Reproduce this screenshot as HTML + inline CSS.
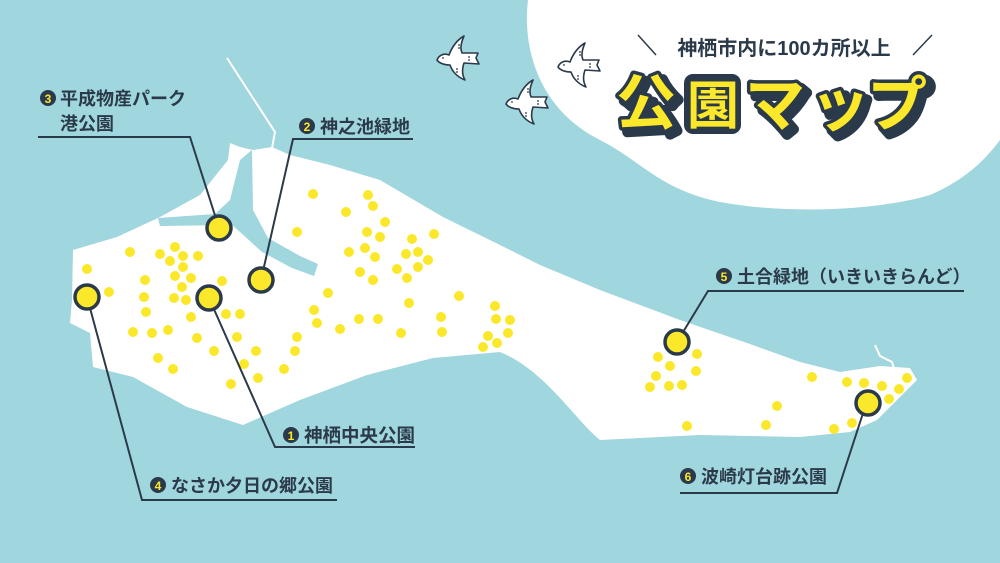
<!DOCTYPE html>
<html><head><meta charset="utf-8"><style>
html,body{margin:0;padding:0;width:1000px;height:563px;overflow:hidden;background:#a0d6dd;}
svg{display:block}
text{font-family:"Liberation Sans","Noto Sans CJK JP",sans-serif;font-weight:bold;fill:#2b3a4a}
</style></head><body>
<svg width="1000" height="563" viewBox="0 0 1000 563" xmlns="http://www.w3.org/2000/svg">
<defs>
<g id="bird">
<path d="M0,25 C2,20 7,18 12,20 C15,12 20,5 27,1 C24,8 23,13 25,18 L41,18 L39,23 L42,29 L27,28 C25,34 25,40 28,45 C20,42 15,36 13,30 C7,30 2,28 0,25Z" fill="#fff" stroke="#2b3a4a" stroke-width="1.6" stroke-linejoin="round"/>
<g stroke="#2b3a4a" stroke-width="1.2"><line x1="21" y1="10" x2="23" y2="10"/><line x1="21" y1="13" x2="23" y2="13"/><line x1="19" y1="34" x2="21" y2="34"/><line x1="19" y1="37" x2="21" y2="37"/><line x1="31" y1="22" x2="33" y2="22"/><line x1="31" y1="25" x2="33" y2="25"/></g>
<circle cx="6" cy="23" r="0.9" fill="#2b3a4a"/>
</g>
</defs>
<rect width="1000" height="563" fill="#a0d6dd"/>
<path d="M528,0 C522,50 540,110 600,140 C640,160 660,190 720,202 C790,215 880,210 930,195 C965,180 985,160 1000,140 L1000,0Z" fill="#fff"/>
<polyline points="227,58 275,132 272,148" fill="none" stroke="#fff" stroke-width="2"/>
<path fill="#fff" d="M73,250 L117,237 L160,217 L200,195 L228,160 L230,143 L240,147 L253,150 L272,147 L290,155 L330,165 L380,180 L443,217 L500,245 L540,265 L600,290 L680,320 L747,343 L800,362 L840,372 L880,366 L910,368 L917,380 L900,397 L877,420 L850,432 L800,437 L700,435 L600,440 C575,420 545,370 500,352 L433,358 L367,375 L300,400 L243,425 L187,407 L133,377 L93,367 L90,333 L70,323 L72,300 Z"/>
<path fill="#a0d6dd" d="M240,160 L252,150 L253,210 L268,238 L300,256 L318,264 L314,276 L292,268 L262,252 L240,232 L232,225 L160,226 L158,218 L215,214 L230,200 Z"/>
<polyline points="875,345 880,356 892,362 895,372" fill="none" stroke="#fff" stroke-width="2"/>
<g fill="#fbe82a">
<circle cx="313" cy="194" r="5"/><circle cx="368" cy="195" r="5"/><circle cx="373" cy="206" r="5"/><circle cx="346" cy="212" r="5"/><circle cx="385" cy="222" r="5"/><circle cx="297" cy="232" r="5"/><circle cx="367" cy="232" r="5"/><circle cx="380" cy="237" r="5"/><circle cx="412" cy="239" r="5"/><circle cx="434" cy="234" r="5"/><circle cx="349" cy="252" r="5"/><circle cx="365" cy="248" r="5"/><circle cx="375" cy="257" r="5"/><circle cx="406" cy="254" r="5"/><circle cx="418" cy="252" r="5"/><circle cx="428" cy="260" r="5"/><circle cx="360" cy="272" r="5"/><circle cx="373" cy="280" r="5"/><circle cx="397" cy="269" r="5"/><circle cx="407" cy="278" r="5"/><circle cx="418" cy="267" r="5"/><circle cx="328" cy="293" r="5"/><circle cx="459" cy="296" r="5"/><circle cx="409" cy="303" r="5"/><circle cx="314" cy="310" r="5"/><circle cx="317" cy="323" r="5"/><circle cx="340" cy="329" r="5"/><circle cx="359" cy="319" r="5"/><circle cx="378" cy="319" r="5"/><circle cx="401" cy="333" r="5"/><circle cx="441" cy="317" r="5"/><circle cx="442" cy="332" r="5"/><circle cx="495" cy="306" r="5"/><circle cx="496" cy="319" r="5"/><circle cx="488" cy="336" r="5"/><circle cx="483" cy="347" r="5"/><circle cx="497" cy="343" r="5"/><circle cx="510" cy="320" r="5"/><circle cx="508" cy="333" r="5"/>
<circle cx="130" cy="252" r="5"/><circle cx="87" cy="269" r="5"/><circle cx="109" cy="292" r="5"/><circle cx="160" cy="254" r="5"/><circle cx="175" cy="247" r="5"/><circle cx="183" cy="256" r="5"/><circle cx="198" cy="256" r="5"/><circle cx="170" cy="261" r="5"/><circle cx="183" cy="267" r="5"/><circle cx="175" cy="276" r="5"/><circle cx="191" cy="278" r="5"/><circle cx="182" cy="287" r="5"/><circle cx="145" cy="280" r="5"/><circle cx="222" cy="281" r="5"/><circle cx="144" cy="297" r="5"/><circle cx="174" cy="298" r="5"/><circle cx="186" cy="300" r="5"/><circle cx="146" cy="312" r="5"/><circle cx="191" cy="317" r="5"/><circle cx="226" cy="314" r="5"/><circle cx="240" cy="314" r="5"/><circle cx="133" cy="332" r="5"/><circle cx="152" cy="333" r="5"/><circle cx="168" cy="330" r="5"/><circle cx="197" cy="338" r="5"/><circle cx="237" cy="337" r="5"/><circle cx="214" cy="351" r="5"/><circle cx="256" cy="351" r="5"/><circle cx="297" cy="337" r="5"/><circle cx="295" cy="351" r="5"/><circle cx="158" cy="358" r="5"/><circle cx="244" cy="364" r="5"/><circle cx="173" cy="369" r="5"/><circle cx="284" cy="369" r="5"/><circle cx="258" cy="378" r="5"/><circle cx="231" cy="384" r="5"/>
<circle cx="658" cy="357" r="5"/><circle cx="697" cy="354" r="5"/><circle cx="670" cy="366" r="5"/><circle cx="696" cy="371" r="5"/><circle cx="656" cy="376" r="5"/><circle cx="650" cy="387" r="5"/><circle cx="669" cy="386" r="5"/><circle cx="682" cy="385" r="5"/><circle cx="812" cy="377" r="5"/><circle cx="777" cy="406" r="5"/><circle cx="766" cy="425" r="5"/><circle cx="687" cy="426" r="5"/><circle cx="847" cy="382" r="5"/><circle cx="864" cy="383" r="5"/><circle cx="882" cy="386" r="5"/><circle cx="899" cy="389" r="5"/><circle cx="907" cy="378" r="5"/><circle cx="889" cy="399" r="5"/><circle cx="852" cy="423" r="5"/><circle cx="834" cy="429" r="5"/>
</g>
<g fill="none" stroke="#2b3a4a" stroke-width="2">
<polyline points="38,137 190,137 219,228"/>
<polyline points="261,280 293,139 413,139"/>
<polyline points="209,298 275,447 415,447"/>
<polyline points="87,297 142,500 337,500"/>
<polyline points="677,342 708,291 964,291"/>
<polyline points="866,404 837,493 680,493"/>
</g>
<g fill="#fbe82a" stroke="#2b3a4a" stroke-width="3.5">
<circle cx="219" cy="228" r="12"/><circle cx="261" cy="280" r="12"/><circle cx="209" cy="298" r="12"/><circle cx="87" cy="297" r="12"/><circle cx="677" cy="342" r="12"/><circle cx="868" cy="403" r="12"/>
</g>
<g>
<circle cx="48" cy="98" r="8" fill="#2b3a4a"/><text x="48" y="103" font-size="12" text-anchor="middle" style="fill:#fbe82a">3</text>
<text x="60" y="105" font-size="18">平成物産パーク</text>
<text x="60" y="130" font-size="18">港公園</text>
<circle cx="307" cy="126" r="8" fill="#2b3a4a"/><text x="307" y="131" font-size="12" text-anchor="middle" style="fill:#fbe82a">2</text>
<text x="320" y="133" font-size="18">神之池緑地</text>
<circle cx="291" cy="435" r="8" fill="#2b3a4a"/><text x="291" y="440" font-size="12" text-anchor="middle" style="fill:#fbe82a">1</text>
<text x="304" y="442" font-size="18.5">神栖中央公園</text>
<circle cx="158" cy="485" r="8" fill="#2b3a4a"/><text x="158" y="490" font-size="12" text-anchor="middle" style="fill:#fbe82a">4</text>
<text x="171" y="492" font-size="18">なさか夕日の郷公園</text>
<circle cx="724" cy="276" r="8" fill="#2b3a4a"/><text x="724" y="281" font-size="12" text-anchor="middle" style="fill:#fbe82a">5</text>
<text x="737" y="283" font-size="18">土合緑地（いきいきらんど）</text>
<circle cx="688" cy="476" r="8" fill="#2b3a4a"/><text x="688" y="481" font-size="12" text-anchor="middle" style="fill:#fbe82a">6</text>
<text x="701" y="483" font-size="18">波崎灯台跡公園</text>
</g>
<use href="#bird" x="437" y="35"/>
<use href="#bird" x="558" y="42"/>
<use href="#bird" x="506" y="79"/>
<line x1="638" y1="35" x2="656" y2="55" stroke="#2b3a4a" stroke-width="1.5"/>
<line x1="913" y1="55" x2="932" y2="35" stroke="#2b3a4a" stroke-width="1.5"/>
<text x="784" y="55" font-size="20" text-anchor="middle">神栖市内に100カ所以上</text>
<rect x="684" y="74" width="57" height="60" rx="9" fill="#2b3a4a"/>
<g font-size="60" style="paint-order:stroke" stroke-linejoin="round">
<text x="621" y="129" style="fill:#2b3a4a" stroke="#2b3a4a" stroke-width="10">公</text>
<text x="750" y="131" style="fill:#2b3a4a" stroke="#2b3a4a" stroke-width="10">マ</text>
<text x="815" y="131" style="fill:#2b3a4a" stroke="#2b3a4a" stroke-width="10">ッ</text>
<text x="872" y="131" style="fill:#2b3a4a" stroke="#2b3a4a" stroke-width="10">プ</text>
<text x="616" y="124" style="fill:#fbe82a" stroke="#2b3a4a" stroke-width="7">公</text>
<text x="687" y="124" font-size="52" style="fill:#fbe82a">園</text>
<text x="745" y="126" style="fill:#fbe82a" stroke="#2b3a4a" stroke-width="7">マ</text>
<text x="810" y="126" style="fill:#fbe82a" stroke="#2b3a4a" stroke-width="7">ッ</text>
<text x="867" y="126" style="fill:#fbe82a" stroke="#2b3a4a" stroke-width="7">プ</text>
</g>
</svg>
</body></html>
